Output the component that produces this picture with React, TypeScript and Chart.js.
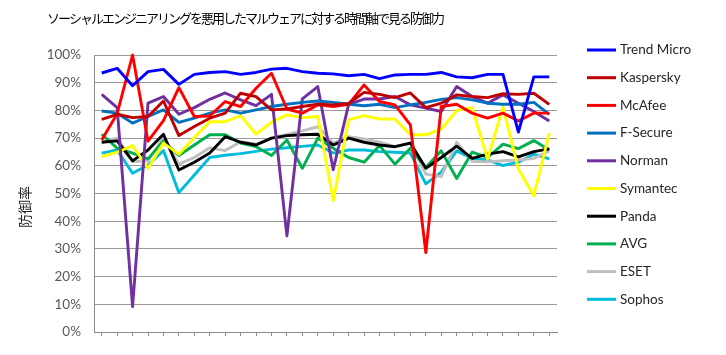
import React, { useEffect, useRef } from 'react';
import { Chart, registerables } from 'chart.js';

Chart.register(...registerables);

const TITLE = 'ソーシャルエンジニアリングを悪用したマルウェアに対する時間軸で見る防御力';
const Y_TITLE = '防御率';

const categories = ['1', '2', '3', '4', '5', '6', '7', '8', '9', '10', '11', '12', '13', '14', '15', '16', '17', '18', '19', '20', '21', '22', '23', '24', '25', '26', '27', '28', '29', '30'];

const seriesNames = ['Trend Micro', 'Kaspersky', 'McAfee', 'F-Secure', 'Norman', 'Symantec', 'Panda', 'AVG', 'ESET', 'Sophos'];
const seriesColors = ['#0000FF', '#C00000', '#FF0000', '#0070C0', '#7030A0', '#FFFF00', '#000000', '#00B050', '#BFBFBF', '#00BCDC'];

const trendMicro = [93.5, 95.2, 88.9, 94, 94.8, 89.4, 93, 93.7, 94, 93, 93.7, 94.9, 95.2, 94, 93.4, 93.2, 92.5, 93, 91.5, 92.8, 93, 93, 93.7, 92.1, 91.8, 93, 93, 72.2, 92.1, 92.1];
const kaspersky = [76.8, 78.6, 77.4, 77.8, 83.4, 70.9, 74.2, 77.2, 79, 86.2, 85, 80.2, 80.5, 81.4, 82.2, 82, 82.5, 86.5, 85.8, 84.6, 86.3, 81, 82.6, 85.6, 85, 84.6, 86, 85.8, 86.2, 82.2];
const mcafee = [69.3, 78.8, 100, 68.9, 76.3, 88.2, 77.8, 78, 83.2, 81.4, 88, 93.4, 80.5, 79, 82, 81.4, 82.2, 89.2, 83.2, 82, 74.8, 28.7, 81.4, 82.2, 79, 77.2, 79, 76.2, 79, 79];
const fSecure = [79.8, 79, 75.4, 77.8, 80.2, 75.7, 77.2, 79, 80.2, 79, 80.2, 81.4, 82.2, 82.9, 83.4, 82.9, 82.2, 81.7, 82.2, 81, 82, 82.9, 84, 84.6, 83.8, 82.6, 82.2, 82.2, 82.9, 78.6];
const norman = [85.8, 81, 9.2, 82.6, 85, 78.6, 81, 84, 86.3, 83.8, 81.7, 85.8, 34.7, 84.2, 88.6, 58.6, 82.2, 84.1, 84.1, 85, 82, 80.8, 79.6, 88.6, 85, 82.6, 85.6, 82.6, 79.6, 76.2];
const symantec = [63.3, 64.9, 67.3, 59.1, 68.2, 64.2, 70.2, 75.9, 75.9, 78.1, 71.4, 75.7, 78.4, 77.4, 77.8, 47.5, 76.6, 78.1, 76.9, 76.9, 71.2, 71.2, 73.2, 80, 81, 62.4, 81.2, 58.8, 49.2, 71.8];
const panda = [68.5, 69, 61.8, 65.7, 71.4, 58.5, 61.3, 64.6, 70.5, 68.5, 67.5, 70, 70.9, 71.2, 71.4, 67.5, 70, 68.5, 67.5, 66.9, 68.2, 59.1, 63, 67.1, 62.7, 64.2, 65.1, 63.2, 65.1, 66.1];
const avg = [71.4, 66.4, 64.6, 62.5, 69, 63.7, 67.5, 71.2, 71.2, 68.2, 66.9, 63.7, 69.3, 59.1, 70, 66.3, 63, 61.3, 67.3, 60.6, 66.3, 59.4, 65.4, 55.4, 64.9, 63, 67.8, 66.2, 69.1, 65.7];
const eset = [68.5, 70, 61.5, 61.8, 70.2, 60.6, 63, 66.5, 65.5, 68.7, 67.8, 70, 71.3, 72.6, 74.1, 68.2, 70.5, 69.7, 68.5, 66.9, 68.2, 57, 56.1, 68.5, 61.6, 61.4, 61.8, 62.1, 62.7, 65.4];
const sophos = [64.6, 65.7, 57.3, 60.3, 65.5, 50.3, 56.7, 63, 63.8, 64.4, 65.2, 66, 66.5, 67, 67.5, 64.6, 65.7, 65.7, 65.1, 64.9, 64.6, 53.5, 57.7, 65.4, 62.7, 62.1, 60.1, 61.3, 64.2, 62.5];

const seriesValues = [trendMicro, kaspersky, mcafee, fSecure, norman, symantec, panda, avg, eset, sophos];

const yTickValues = [0, 10, 20, 30, 40, 50, 60, 70, 80, 90, 100];

const W = 726;
const H = 355;

const decorPlugin = {
  id: 'decor',
  afterDraw(chart: any) {
    const ctx = chart.ctx as CanvasRenderingContext2D;
    // Title
    ctx.save();
    ctx.fillStyle = '#000000';
    ctx.font = '13px "Noto Sans CJK JP"';
    ctx.textAlign = 'left';
    ctx.textBaseline = 'middle';
    (ctx as any).letterSpacing = '-2px';
    ctx.fillText(TITLE, 47, 18);
    (ctx as any).letterSpacing = '0px';
    ctx.restore();

    // Y axis title (rotated)
    ctx.save();
    ctx.fillStyle = '#262626';
    ctx.font = '14px "Noto Sans CJK JP"';
    ctx.translate(25, 207);
    ctx.rotate(-Math.PI / 2);
    ctx.textAlign = 'center';
    ctx.textBaseline = 'middle';
    ctx.fillText(Y_TITLE, 0, 0);
    ctx.restore();

    // Legend
    ctx.save();
    const area = chart.chartArea;
    const x0 = area.right + 30;
    chart.data.datasets.forEach((ds: any, i: number) => {
      const y = 50 + i * 27.7;
      ctx.strokeStyle = ds.borderColor;
      ctx.lineWidth = 3;
      ctx.beginPath();
      ctx.moveTo(x0, y);
      ctx.lineTo(x0 + 29, y);
      ctx.stroke();
      ctx.fillStyle = '#262626';
      ctx.font = '13.5px Lato';
      ctx.textAlign = 'left';
      ctx.textBaseline = 'middle';
      ctx.fillText(ds.label, x0 + 33, y);
    });
    ctx.restore();
  },
};

export default function App() {
  const canvasRef = useRef<HTMLCanvasElement | null>(null);

  useEffect(() => {
    const canvas = canvasRef.current;
    if (!canvas) return;
    const chart = new Chart(canvas, {
      type: 'line',
      data: {
        labels: categories,
        datasets: seriesNames.map((name, i) => ({
          label: name,
          data: seriesValues[i],
          borderColor: seriesColors[i],
          backgroundColor: seriesColors[i],
          borderWidth: 2.9,
          pointRadius: 0,
          pointHoverRadius: 0,
          tension: 0,
          borderJoinStyle: 'round' as const,
          fill: false,
          clip: false as any,
        })),
      },
      options: {
        responsive: false,
        animation: false,
        devicePixelRatio: 1,
        layout: { padding: { left: 0, right: W - 557, top: 55, bottom: 0 } },
        plugins: {
          legend: { display: false },
          title: { display: false },
          tooltip: { enabled: false },
        },
        scales: {
          x: {
            type: 'category',
            offset: true,
            afterFit: (scale: any) => {
              scale.height = 23;
            },
            grid: {
              display: true,
              drawOnChartArea: false,
              drawTicks: true,
              tickLength: 4,
              color: '#8c8c8c',
            },
            border: { display: true, color: '#8c8c8c', width: 1 },
            ticks: { display: false },
          },
          y: {
            min: 0,
            max: 100,
            afterFit: (scale: any) => {
              scale.width = 94;
            },
            afterBuildTicks: (scale: any) => {
              scale.ticks = yTickValues.map((v) => ({ value: v }));
            },
            grid: {
              color: '#9a9a9a',
              lineWidth: 1,
              drawTicks: false,
            },
            border: { display: true, color: '#8c8c8c', width: 1 },
            ticks: {
              padding: 13,
              color: '#595959',
              font: { family: 'Lato', size: 13.5 },
              callback: (v: any) => `${v}%`,
            },
          },
        },
      },
      plugins: [decorPlugin],
    });
    return () => chart.destroy();
  }, []);

  return (
    <div style={{ position: 'fixed', left: 0, top: 0, width: W, height: H, background: '#ffffff' }}>
      <canvas ref={canvasRef} width={W} height={H} style={{ display: 'block', width: W, height: H }} />
    </div>
  );
}
